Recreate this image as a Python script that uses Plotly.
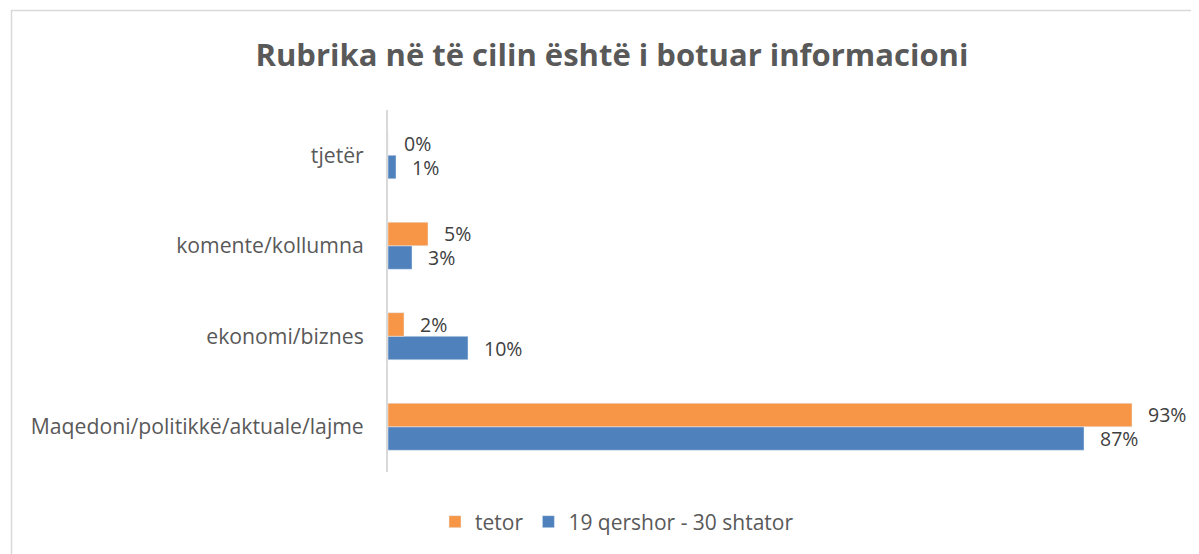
import plotly.graph_objects as go

categories = ["Maqedoni/politikkë/aktuale/lajme", "ekonomi/biznes", "komente/kollumna", "tjetër"]
tetor = [93, 2, 5, 0]
qershor_shtator = [87, 10, 3, 1]
series_names = ["tetor", "19 qershor - 30 shtator"]

# page is offset by the 8px body margin
OFF = 8
W, H = 1199 - OFF, 554 - OFF
L, R, T, B = 388 - OFF, 11, 110 - OFF, 82
pw = W - L - R
ph = H - T - B

FONT = "Open Sans"
ORANGE = "#F79646"
BLUE = "#4F81BD"

fig = go.Figure()
fig.add_trace(go.Bar(y=categories, x=qershor_shtator, name=series_names[1], orientation="h",
                     marker=dict(color=BLUE), hoverinfo="x+y"))
fig.add_trace(go.Bar(y=categories, x=tetor, name=series_names[0], orientation="h",
                     marker=dict(color=ORANGE), hoverinfo="x+y"))

annotations = []
for vals, shift in ((tetor, 12), (qershor_shtator, -12)):
    for c, v in zip(categories, vals):
        annotations.append(dict(x=v, y=c, xref="x", yref="y", text=f"{v}%", showarrow=False,
                                xanchor="left", yanchor="middle", xshift=14, yshift=shift,
                                font=dict(family=FONT, size=19.5, color="#404040")))

def px_x(p):
    return (p - OFF - L) / pw

def px_y(p):
    return (H - B - (p - OFF)) / ph

shapes = [
    dict(type="line", xref="paper", yref="paper", x0=px_x(11), x1=px_x(1215), y0=px_y(10.5), y1=px_y(10.5),
         line=dict(color="#D9D9D9", width=1.5)),
    dict(type="line", xref="paper", yref="paper", x0=px_x(11.5), x1=px_x(11.5), y0=px_y(10), y1=px_y(570),
         line=dict(color="#D9D9D9", width=1.5)),
]

fig.update_layout(
    width=W, height=H,
    margin=dict(l=L, r=R, t=T, b=B, autoexpand=False),
    paper_bgcolor="white", plot_bgcolor="white",
    barmode="group", bargap=0.48, bargroupgap=0,
    title=dict(text="<b>Rubrika në të cilin është i botuar informacioni</b>",
               x=(612 - OFF) / W, xanchor="center", y=1 - (55 - OFF) / H, yanchor="middle",
               font=dict(family=FONT, size=31, color="#595959")),
    xaxis=dict(range=[0, 100], visible=False, showgrid=False, zeroline=False, automargin=False),
    yaxis=dict(showline=True, linecolor="#D9D9D9", linewidth=2, showgrid=False, zeroline=False,
               ticks="", ticklabelstandoff=18, automargin=False,
               tickfont=dict(family=FONT, size=21.2, color="#595959")),
    legend=dict(orientation="h", x=px_x(617), xanchor="center", y=px_y(522), yanchor="middle",
                traceorder="reversed", font=dict(family=FONT, size=21, color="#595959")),
    annotations=annotations,
    shapes=shapes,
    showlegend=True,
)

fig.write_html("out.html")
